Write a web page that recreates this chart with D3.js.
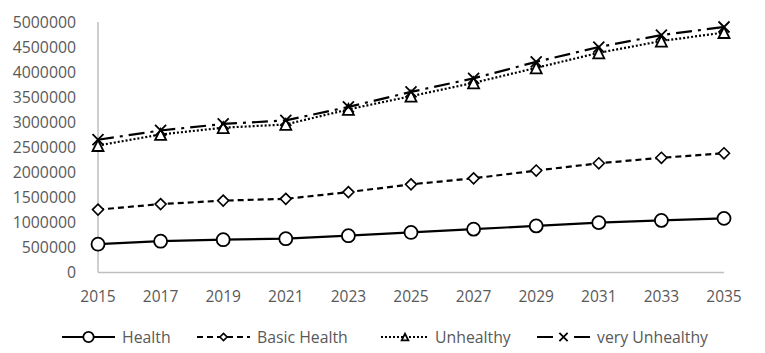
<!DOCTYPE html>
<html lang="en">
<head>
    <meta charset="UTF-8">
    <title>chart</title>
    <script src="https://cdn.jsdelivr.net/npm/d3@7"></script>
    <style>
        body { margin: 0; background: #fff; }
        text { font-family: "Open Sans", "Noto Sans", sans-serif; fill: #595959; }
    </style>
</head>
<body>
<script type="text/javascript">
    var years = [2015, 2017, 2019, 2021, 2023, 2025, 2027, 2029, 2031, 2033, 2035];
    var health = [565000, 625000, 655000, 675000, 735000, 800000, 865000, 930000, 995000, 1040000, 1080000];
    var basicHealth = [1255000, 1365000, 1435000, 1470000, 1605000, 1760000, 1880000, 2035000, 2180000, 2290000, 2380000];
    var unhealthy = [2535000, 2755000, 2890000, 2955000, 3255000, 3520000, 3785000, 4085000, 4385000, 4620000, 4790000];
    var veryUnhealthy = [2650000, 2835000, 2965000, 3035000, 3305000, 3605000, 3875000, 4205000, 4500000, 4740000, 4900000];
    var yTicks = [0, 500000, 1000000, 1500000, 2000000, 2500000, 3000000, 3500000, 4000000, 4500000, 5000000];

    var series = [
        {name: 'Health', values: health, dash: null, marker: 'circle'},
        {name: 'Basic Health', values: basicHealth, dash: '6,4', marker: 'diamond'},
        {name: 'Unhealthy', values: unhealthy, dash: '2,2', marker: 'triangle'},
        {name: 'very Unhealthy', values: veryUnhealthy, dash: '16,6,3,6', marker: 'cross'}
    ];

    var width = 765;
    var height = 353;
    var svg = d3.select('body').append('svg')
            .attr('width', width)
            .attr('height', height);

    var x = d3.scaleLinear().domain([2015, 2035]).range([98, 724]);
    var y = d3.scaleLinear().domain([0, 5000000]).range([272.5, 22]);

    // axes
    svg.append('line')
            .attr('x1', x(2015)).attr('x2', x(2015))
            .attr('y1', y(5000000)).attr('y2', y(0))
            .attr('stroke', '#bfbfbf').attr('stroke-width', 1.5);
    svg.append('line')
            .attr('x1', x(2015)).attr('x2', x(2035))
            .attr('y1', y(0)).attr('y2', y(0))
            .attr('stroke', '#bfbfbf').attr('stroke-width', 1.5);

    svg.selectAll('.yLabel')
            .data(yTicks)
            .enter()
            .append('text')
            .attr('class', 'yLabel')
            .attr('x', 76)
            .attr('y', function (d) { return y(d); })
            .attr('dy', '0.35em')
            .attr('text-anchor', 'end')
            .style('font-size', '15.8px')
            .text(function (d) { return d; });

    svg.selectAll('.xLabel')
            .data(years)
            .enter()
            .append('text')
            .attr('class', 'xLabel')
            .attr('x', function (d) { return x(d); })
            .attr('y', 297)
            .attr('dy', '0.35em')
            .attr('text-anchor', 'middle')
            .style('font-size', '15.5px')
            .text(function (d) { return d; });

    function drawMarker(g, type, cx, cy, k) {
        if (type === 'circle') {
            g.append('circle').attr('cx', cx).attr('cy', cy).attr('r', 6.5 * k)
                    .attr('fill', '#fff').attr('stroke', '#000').attr('stroke-width', 1.8);
        } else if (type === 'diamond') {
            var s = 5.5 * k;
            g.append('path')
                    .attr('d', 'M' + cx + ',' + (cy - s) + 'L' + (cx + s) + ',' + cy + 'L' + cx + ',' + (cy + s) + 'L' + (cx - s) + ',' + cy + 'Z')
                    .attr('fill', '#fff').attr('stroke', '#000').attr('stroke-width', 1.6);
        } else if (type === 'triangle') {
            var t = 5.5 * k;
            g.append('path')
                    .attr('d', 'M' + cx + ',' + (cy - t) + 'L' + (cx + t) + ',' + (cy + t) + 'L' + (cx - t) + ',' + (cy + t) + 'Z')
                    .attr('fill', '#fff').attr('stroke', '#000').attr('stroke-width', 1.8);
        } else {
            var c = 5.5 * k;
            g.append('path')
                    .attr('d', 'M' + (cx - c) + ',' + (cy - c) + 'L' + (cx + c) + ',' + (cy + c) + 'M' + (cx + c) + ',' + (cy - c) + 'L' + (cx - c) + ',' + (cy + c))
                    .attr('fill', 'none').attr('stroke', '#000').attr('stroke-width', 1.8);
        }
    }

    var line = d3.line()
            .x(function (d, i) { return x(years[i]); })
            .y(function (d) { return y(d); });

    series.forEach(function (s) {
        var g = svg.append('g');
        g.append('path')
                .attr('d', line(s.values))
                .attr('fill', 'none')
                .attr('stroke', '#000')
                .attr('stroke-width', 2.2)
                .attr('stroke-dasharray', s.dash);
        s.values.forEach(function (v, i) {
            drawMarker(g, s.marker, x(years[i]), y(v), 1);
        });
    });

    // legend
    var legendLineX = [62, 197, 381, 537];
    var legendLineW = [53, 53, 48, 53];
    var legendTextX = [122, 257, 435, 597];
    var legendScale = [0.8, 0.65, 0.6, 0.75];
    var legendY = 337;
    series.forEach(function (s, i) {
        var g = svg.append('g');
        var lx = legendLineX[i];
        var lw = legendLineW[i];
        g.append('line')
                .attr('x1', lx).attr('x2', lx + lw)
                .attr('y1', legendY).attr('y2', legendY)
                .attr('stroke', '#000').attr('stroke-width', 2.2)
                .attr('stroke-dasharray', s.marker === 'cross' ? '16,21,16' : s.dash);
        drawMarker(g, s.marker, lx + lw / 2, legendY, legendScale[i]);
        g.append('text')
                .attr('x', legendTextX[i])
                .attr('y', legendY)
                .attr('dy', '0.35em')
                .style('font-size', '15.8px')
                .text(s.name);
    });
</script>
</body>
</html>
